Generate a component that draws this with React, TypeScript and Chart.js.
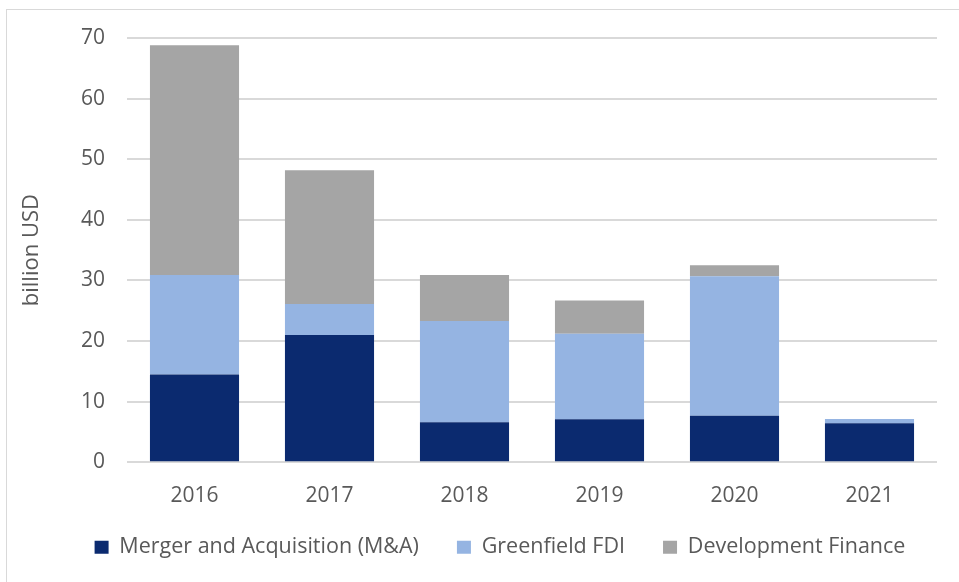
import React, { useEffect, useRef } from "react";
import { Chart, registerables } from "chart.js";

Chart.register(...registerables);

const categories = ["2016", "2017", "2018", "2019", "2020", "2021"];
const mergerAcquisition = [14.5, 21.0, 6.6, 7.1, 7.7, 6.45];
const greenfieldFDI = [16.4, 5.1, 16.7, 14.1, 23.0, 0.7];
const developmentFinance = [37.9, 22.1, 7.6, 5.5, 1.8, 0];
const yTicks = [0, 10, 20, 30, 40, 50, 60, 70];

const FONT = "'Open Sans', sans-serif";
const TEXT = "#595959";

const legendShift = {
  id: "legendShift",
  afterLayout(chart: any) {
    const l = chart.legend;
    if (l) {
      l.left += 28;
      l.right += 28;
    }
  },
};

export default function App() {
  const ref = useRef<HTMLCanvasElement | null>(null);

  useEffect(() => {
    document.body.style.overflow = "hidden";
    const canvas = ref.current;
    if (!canvas) return;
    const chart = new Chart(canvas, {
      type: "bar",
      data: {
        labels: categories,
        datasets: [
          { label: "Merger and Acquisition (M&A)", data: mergerAcquisition, backgroundColor: "#0B2A6F" },
          { label: "Greenfield FDI", data: greenfieldFDI, backgroundColor: "#95B4E2" },
          { label: "Development Finance", data: developmentFinance, backgroundColor: "#A5A5A5" },
        ],
      },
      plugins: [legendShift],
      options: {
        responsive: false,
        animation: false,
        layout: { padding: { left: 0, right: 22, top: 28, bottom: 12 } },
        datasets: {
          bar: { categoryPercentage: 1, barPercentage: 0.66, borderWidth: 0 },
        },
        scales: {
          x: {
            stacked: true,
            grid: { display: false },
            border: { display: false },
            ticks: { color: TEXT, font: { family: FONT, size: 21 }, padding: 13 },
            afterFit: (s: any) => { s.height = 48; },
          },
          y: {
            stacked: true,
            min: 0,
            max: 70,
            afterBuildTicks: (s: any) => { s.ticks = yTicks.map((v) => ({ value: v })); },
            grid: { color: "#D9D9D9", lineWidth: 2, drawTicks: false },
            border: { display: false },
            ticks: { color: TEXT, font: { family: FONT, size: 21 }, padding: 22 },
            title: {
              display: true,
              text: "billion USD",
              color: TEXT,
              font: { family: FONT, size: 22 },
              padding: { top: 12, bottom: 0 },
            },
            afterFit: (s: any) => {
              s.width = 120;
              s.paddingTop = 0;
            },
          },
        },
        plugins: {
          legend: {
            position: "bottom",
            title: { display: true, text: "", font: { size: 1 }, padding: { top: -13, bottom: 0 } },
            labels: { color: TEXT, font: { family: FONT, size: 21.5 }, boxWidth: 14, boxHeight: 13, padding: 38 },
          },
          tooltip: { enabled: false },
        },
      },
    });
    return () => chart.destroy();
  }, []);

  return (
    <div
      style={{
        position: "fixed",
        left: 6,
        top: 9,
        width: 960,
        height: 580,
        border: "1px solid #D9D9D9",
        boxSizing: "border-box",
        background: "#fff",
      }}
    >
      <canvas ref={ref} width={952} height={570} style={{ display: "block", position: "absolute", left: 0, top: 0 }} />
    </div>
  );
}
